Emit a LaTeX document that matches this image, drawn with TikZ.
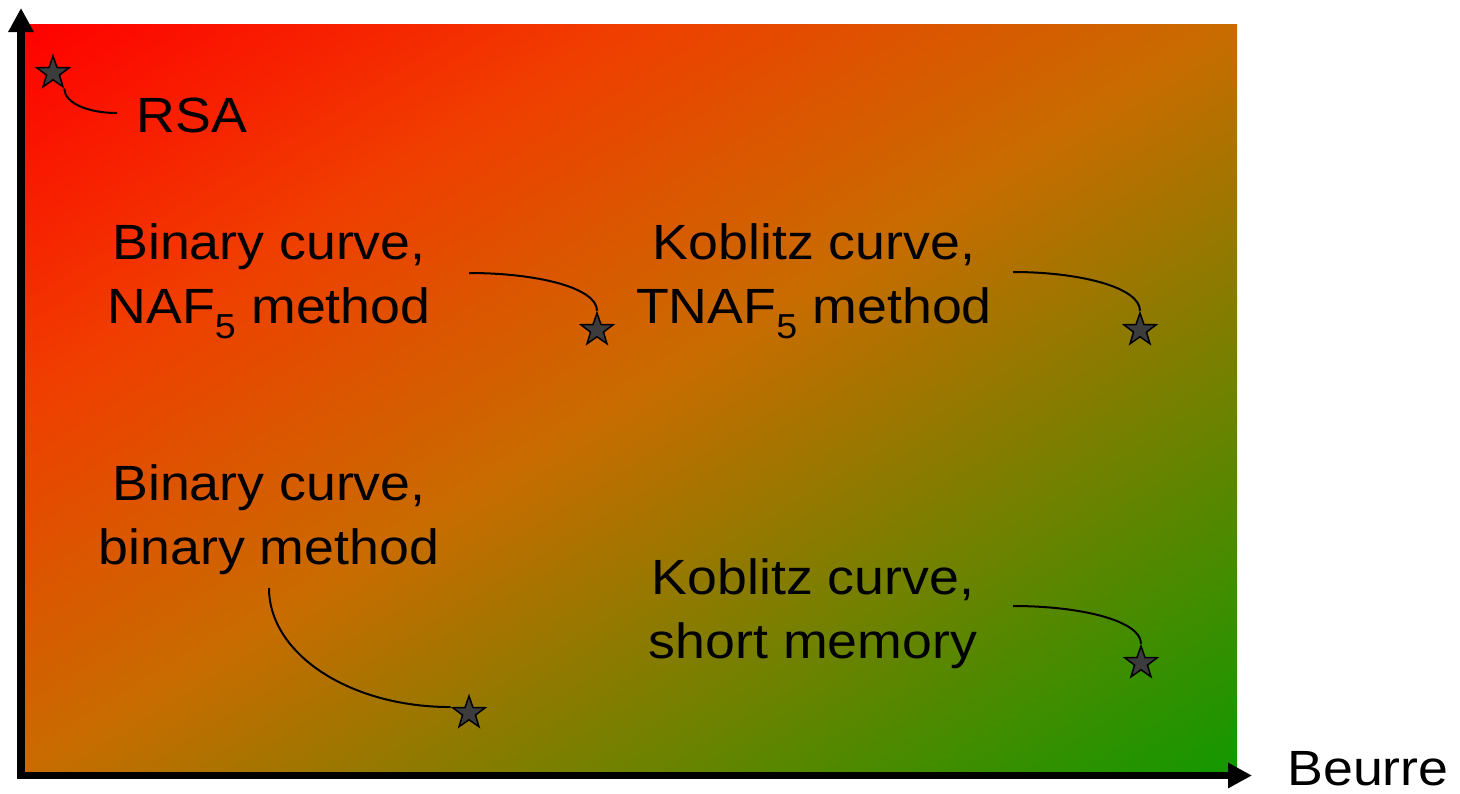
\documentclass[tikz,border=0pt]{standalone}
\usepackage{fontspec}
\setmainfont{Liberation Sans}[FakeStretch=1.085]
\usetikzlibrary{shapes.geometric,arrows.meta}
\definecolor{cR}{RGB}{255,0,0}
\definecolor{cQ}{RGB}{240,62,0}
\definecolor{cM}{RGB}{200,108,0}
\definecolor{cG}{RGB}{18,152,0}
\definecolor{starfill}{RGB}{60,60,60}
\pgfdeclarehorizontalshading{bgshade}{100bp}{color(0bp)=(cR); color(25bp)=(cR); color(37.5bp)=(cQ); color(50bp)=(cM); color(75bp)=(cG); color(100bp)=(cG)}
\tikzset{
  lbl/.style={font=\fontsize{49.5}{64}\selectfont, align=center, inner sep=0pt},
  starnode/.style={star, star points=5, star point ratio=2.5, minimum size=34pt, inner sep=0pt, fill=starfill, draw=black, line width=1.5pt},
  link/.style={draw=black, line width=2pt},
  axis/.style={line width=7.5pt, line cap=rect, -{Triangle[length=24pt,width=24pt]}},
}
\begin{document}
\begin{tikzpicture}[x=1pt,y=-1pt]
\useasboundingbox (0,0) rectangle (1460,793);
% background: diagonal gradient, iso-lines parallel to the bottom-left/top-right diagonal
\begin{scope}
  \clip (24,24) rectangle (1237,773);
  \begin{scope}[transform canvas={cm={4.2885,-2.6481,4.2885,2.6481,(630.5,398.5)}}]
    \begin{scope}[x=1pt,y=1pt]
      \shade[shading=bgshade] (-141.42,-141.42) rectangle (141.42,141.42);
    \end{scope}
  \end{scope}
\end{scope}
% axes
\coordinate (O) at (21,775.5);
\coordinate (ytip) at (21,8);
\coordinate (xtip) at (1252,775.5);
\draw[axis] (O) -- (ytip);
\draw[axis] (O) -- (xtip);
% labels
\node[lbl, anchor=base] (rsa) at (192,132) {RSA};
\node[lbl] (naf) at (269,281) {Binary curve,\\NAF\textsubscript{5} method};
\node[lbl] (tnaf) at (814,281) {Koblitz curve,\\TNAF\textsubscript{5} method};
\node[lbl] (bin) at (269,520) {Binary curve,\\binary method};
\node[lbl] (short) at (813,614) {Koblitz curve,\\short memory};
\node[lbl, anchor=base] (beurre) at (1368,785) {Beurre};
% stars
\node[starnode] (s1) at (53,73) {};
\node[starnode] (s2) at (597,330) {};
\node[starnode] (s3) at (1140,330) {};
\node[starnode] (s4) at (469,713) {};
\node[starnode] (s5) at (1141,663) {};
% free ends
\coordinate (e1) at (117,113);
\coordinate (e2) at (469,273);
\coordinate (e3) at (1013,272);
\coordinate (e4) at (269,588);
\coordinate (e5) at (1013,606);
% connectors
\draw[link] (e1) .. controls +(-30,0) and +(0,14) .. (s1.outer point 4);
\draw[link] (e2) .. controls +(68,0) and +(0,-23) .. (s2.north);
\draw[link] (e3) .. controls +(68,0) and +(0,-23) .. (s3.north);
\draw[link] (e4) .. controls +(0,66) and +(-101,0) .. (s4.outer point 2);
\draw[link] (e5) .. controls +(68,0) and +(0,-23) .. (s5.north);
\end{tikzpicture}
\end{document}
